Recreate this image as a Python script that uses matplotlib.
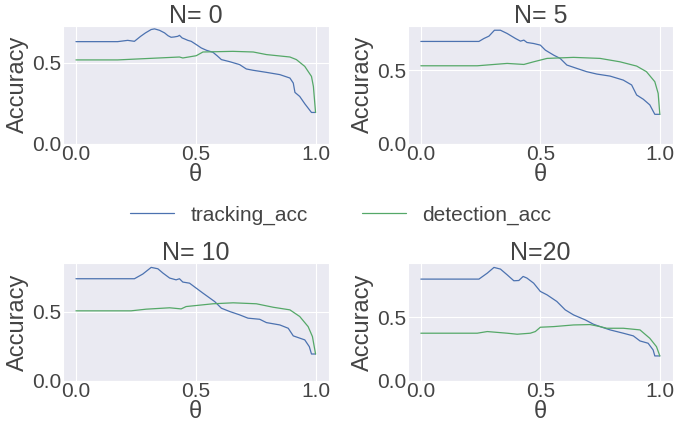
import matplotlib
matplotlib.use("Agg")
import matplotlib.pyplot as plt
import seaborn as sns

sns.set_style("darkgrid")
plt.rcParams['font.family'] = ['Liberation Sans', 'DejaVu Sans']
plt.rcParams['text.color'] = '#444444'
plt.rcParams['axes.labelcolor'] = '#444444'
plt.rcParams['xtick.color'] = '#444444'
plt.rcParams['ytick.color'] = '#444444'

titles = ['N= 0', 'N= 5', 'N= 10', 'N=20']

# tracking accuracy, read per panel
trk_x = [
    [0.0, 0.174, 0.216, 0.244, 0.27, 0.29, 0.314, 0.328, 0.349, 0.37, 0.384, 0.397, 0.41, 0.425, 0.432,
     0.443, 0.453, 0.467, 0.481, 0.502, 0.523, 0.544, 0.572, 0.589, 0.607, 0.642, 0.683, 0.711, 0.739,
     0.795, 0.851, 0.893, 0.907, 0.914, 0.934, 0.955, 0.983, 1.0],
    [0.0, 0.243, 0.264, 0.285, 0.308, 0.333, 0.361, 0.396, 0.417, 0.431, 0.444, 0.472, 0.5, 0.521, 0.556,
     0.583, 0.611, 0.653, 0.694, 0.736, 0.792, 0.847, 0.882, 0.903, 0.931, 0.958, 0.979, 1.0],
    [0.0, 0.244, 0.279, 0.314, 0.342, 0.363, 0.391, 0.418, 0.432, 0.446, 0.474, 0.502, 0.53, 0.579,
     0.607, 0.642, 0.683, 0.718, 0.767, 0.795, 0.851, 0.886, 0.907, 0.955, 0.974, 0.983, 1.0],
    [0.0, 0.243, 0.278, 0.306, 0.333, 0.361, 0.389, 0.41, 0.428, 0.444, 0.472, 0.5, 0.528, 0.569, 0.604,
     0.639, 0.688, 0.722, 0.75, 0.792, 0.847, 0.889, 0.917, 0.951, 0.972, 0.979, 1.0],
]
trk_y = [
    [0.632, 0.632, 0.640, 0.634, 0.665, 0.686, 0.707, 0.711, 0.702, 0.686, 0.669, 0.659, 0.661, 0.665, 0.671,
     0.655, 0.649, 0.640, 0.634, 0.614, 0.593, 0.579, 0.566, 0.545, 0.521, 0.508, 0.490, 0.463, 0.455,
     0.442, 0.428, 0.407, 0.376, 0.318, 0.293, 0.248, 0.194, 0.194],
    [0.694, 0.694, 0.714, 0.730, 0.770, 0.770, 0.748, 0.714, 0.696, 0.703, 0.687, 0.680, 0.669, 0.635, 0.601,
     0.579, 0.534, 0.511, 0.489, 0.473, 0.459, 0.432, 0.399, 0.331, 0.302, 0.264, 0.200, 0.200],
    [0.737, 0.737, 0.771, 0.819, 0.809, 0.778, 0.742, 0.729, 0.737, 0.713, 0.705, 0.669, 0.633, 0.572,
     0.524, 0.500, 0.476, 0.452, 0.444, 0.420, 0.403, 0.379, 0.324, 0.295, 0.246, 0.193, 0.193],
    [0.800, 0.800, 0.847, 0.892, 0.879, 0.834, 0.787, 0.789, 0.821, 0.808, 0.768, 0.703, 0.676, 0.624, 0.558,
     0.518, 0.479, 0.445, 0.426, 0.400, 0.374, 0.353, 0.313, 0.295, 0.242, 0.195, 0.195],
]

# detection accuracy, read per panel
det_x = [
    [0.0, 0.174, 0.432, 0.446, 0.502, 0.53, 0.655, 0.74, 0.795, 0.893, 0.92, 0.955, 0.983, 0.991, 1.0],
    [0.0, 0.236, 0.361, 0.431, 0.472, 0.528, 0.639, 0.75, 0.833, 0.903, 0.944, 0.979, 0.993, 1.0],
    [0.0, 0.23, 0.293, 0.391, 0.439, 0.46, 0.516, 0.572, 0.656, 0.753, 0.823, 0.893, 0.934, 0.969, 0.987, 1.0],
    [0.0, 0.236, 0.278, 0.361, 0.403, 0.458, 0.479, 0.5, 0.556, 0.639, 0.708, 0.75, 0.778, 0.847, 0.917,
     0.958, 0.986, 1.0],
]
det_y = [
    [0.519, 0.519, 0.537, 0.531, 0.545, 0.568, 0.572, 0.568, 0.552, 0.537, 0.521, 0.479, 0.417, 0.355, 0.194],
    [0.529, 0.529, 0.545, 0.538, 0.556, 0.579, 0.586, 0.579, 0.556, 0.527, 0.489, 0.421, 0.342, 0.200],
    [0.505, 0.505, 0.517, 0.527, 0.519, 0.536, 0.546, 0.556, 0.563, 0.556, 0.531, 0.512, 0.464, 0.391, 0.319, 0.193],
    [0.374, 0.374, 0.387, 0.374, 0.366, 0.374, 0.387, 0.421, 0.426, 0.439, 0.442, 0.426, 0.413, 0.413, 0.400,
     0.334, 0.268, 0.195],
]

ytops = [0.73, 0.80, 0.85, 0.926]

fig = plt.figure(figsize=(6.75, 4.23), dpi=100)
rects = [
    [0.093, 0.660, 0.394, 0.279],
    [0.604, 0.660, 0.393, 0.279],
    [0.093, 0.100, 0.394, 0.278],
    [0.604, 0.100, 0.393, 0.278],
]

blue = '#4C72B0'
green = '#55A868'
for i in range(4):
    ax = fig.add_axes(rects[i])
    ax.plot(trk_x[i], trk_y[i], color=blue, lw=0.9, label='tracking_acc')
    ax.plot(det_x[i], det_y[i], color=green, lw=0.9, label='detection_acc')
    ax.set_xlim(-0.055, 1.055)
    ax.set_ylim(0, ytops[i])
    ax.set_xticks([0.0, 0.5, 1.0])
    ax.set_yticks([0.0, 0.5])
    ax.set_xticklabels(['0.0', '0.5', '1.0'])
    ax.set_yticklabels(['0.0', '0.5'])
    ax.tick_params(labelsize=15, length=0, pad=1)
    ax.set_title(titles[i], fontsize=18, pad=2)
    ax.set_xlabel('θ', fontsize=17, labelpad=0)
    ax.set_ylabel('Accuracy', fontsize=17, labelpad=2)
    if i == 0:
        handles, labels = ax.get_legend_handles_labels()

fig.legend(handles, labels, loc='center', bbox_to_anchor=(0.505, 0.492), ncol=2,
           frameon=False, fontsize=15, columnspacing=2.6, handlelength=2.1)

fig.savefig('out.png', dpi=100)
